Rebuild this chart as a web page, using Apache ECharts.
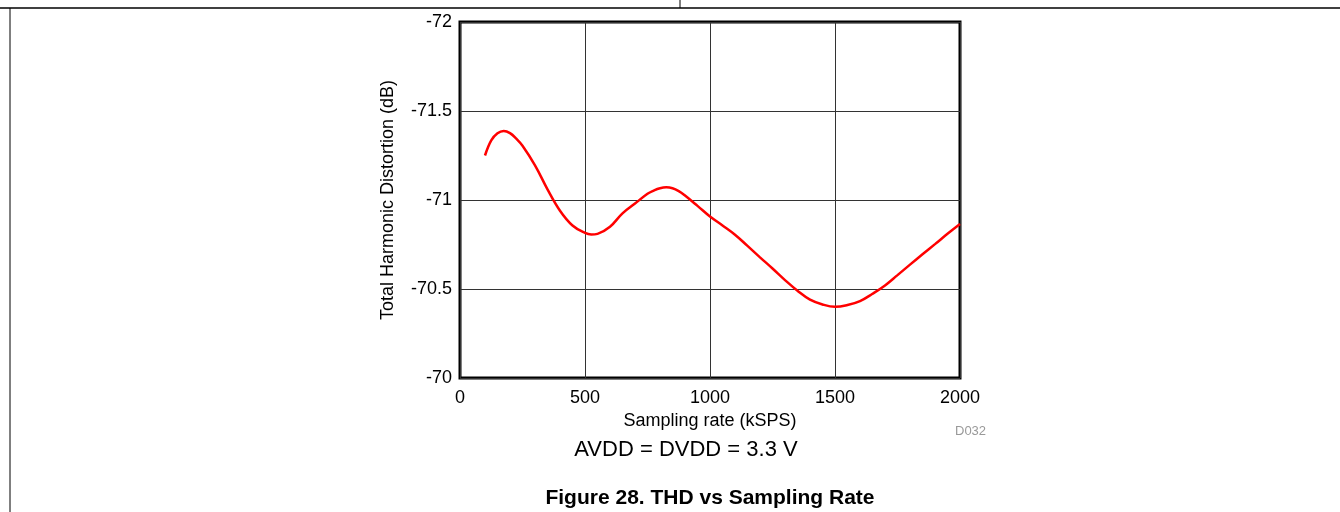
<!DOCTYPE html>
<html>
<head>
<meta charset="utf-8">
<script src="https://cdn.jsdelivr.net/npm/echarts@6/dist/echarts.min.js"></script>
<style>
  html, body { margin: 0; padding: 0; background: #fff; }
  #main { width: 1340px; height: 512px; }
</style>
</head>
<body>
<div id="main"></div>
<script>
// sampling rate (kSPS) and THD (dB)
const rates = [100, 125, 150, 175, 200, 225, 250, 300, 350, 400, 450, 500, 525, 550, 600, 650, 700, 750, 775, 800, 825, 850,
  875, 900, 950, 1000, 1050, 1100, 1150, 1200, 1250, 1300, 1350, 1400, 1450, 1500, 1550, 1600, 1650, 1700, 1750, 1800,
  1850, 1900, 1950, 2000];
const thd = [-71.25, -71.335, -71.375, -71.388, -71.376, -71.345, -71.305, -71.195, -71.06, -70.94, -70.857, -70.815,
  -70.806, -70.81, -70.85, -70.925, -70.98, -71.035, -71.053, -71.066, -71.071, -71.066, -71.05, -71.025, -70.967,
  -70.907, -70.857, -70.805, -70.742, -70.678, -70.615, -70.55, -70.49, -70.44, -70.413, -70.40, -70.41, -70.432,
  -70.473, -70.52, -70.578, -70.637, -70.695, -70.752, -70.81, -70.865];
const xTicks = [0, 500, 1000, 1500, 2000];
const yTicks = [-72, -71.5, -71, -70.5, -70];

const chart = echarts.init(document.getElementById('main'));
const font = '"Liberation Sans", Arial, sans-serif';

const option = {
  animation: false,
  backgroundColor: '#fff',
  grid: {
    left: 460, right: 380, top: 22, bottom: 134,
    show: true, borderColor: '#000', borderWidth: 3, backgroundColor: 'transparent'
  },
  xAxis: {
    type: 'value', min: xTicks[0], max: xTicks[xTicks.length - 1], interval: 500,
    axisLine: { show: false }, axisTick: { show: false },
    axisLabel: { color: '#000', fontSize: 18, fontFamily: font, margin: 11, formatter: v => String(v) },
    splitLine: { lineStyle: { color: '#333', width: 1 } },
    name: 'Sampling rate (kSPS)', nameLocation: 'middle', nameGap: 31,
    nameTextStyle: { color: '#000', fontSize: 18, fontFamily: font }
  },
  yAxis: {
    type: 'value', min: yTicks[0], max: yTicks[yTicks.length - 1], interval: 0.5, inverse: true,
    axisLine: { show: false }, axisTick: { show: false },
    axisLabel: { color: '#000', fontSize: 18, fontFamily: font, margin: 8 },
    splitLine: { lineStyle: { color: '#333', width: 1 } },
    name: 'Total Harmonic Distortion (dB)', nameLocation: 'middle', nameGap: 63, nameRotate: 90,
    nameTextStyle: { color: '#000', fontSize: 18, fontFamily: font }
  },
  series: [{
    type: 'line', smooth: 0.4, symbol: 'none',
    data: rates.map((r, i) => [r, thd[i]]),
    lineStyle: { color: '#ff0000', width: 2.5 }
  }],
  graphic: [
    { type: 'line', shape: { x1: 0, y1: 8, x2: 1340, y2: 8 }, style: { stroke: '#000', lineWidth: 1.5 } },
    { type: 'line', shape: { x1: 680, y1: 0, x2: 680, y2: 8 }, style: { stroke: '#000', lineWidth: 1 } },
    { type: 'line', shape: { x1: 10, y1: 8, x2: 10, y2: 512 }, style: { stroke: '#000', lineWidth: 1 } },
    { type: 'text', left: 955, top: 425, style: { text: 'D032', fill: '#999', font: '13px ' + font } },
    { type: 'text', x: 686, y: 450, style: { text: 'AVDD = DVDD = 3.3 V', fill: '#000', font: '22px ' + font, align: 'center', verticalAlign: 'middle' } },
    { type: 'text', x: 710, y: 498, style: { text: 'Figure 28. THD vs Sampling Rate', fill: '#000', font: 'bold 21px ' + font, align: 'center', verticalAlign: 'middle' } }
  ]
};
chart.setOption(option);
</script>
</body>
</html>
